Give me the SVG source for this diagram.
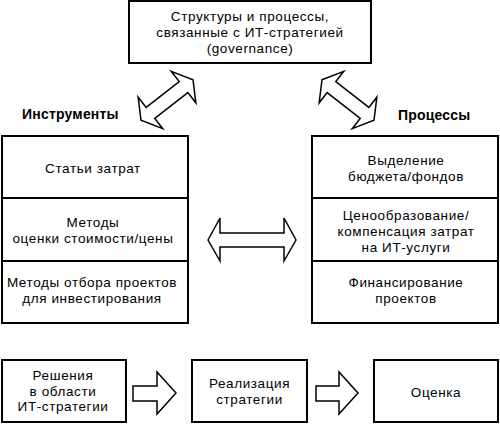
<svg xmlns="http://www.w3.org/2000/svg" width="500" height="424" viewBox="0 0 500 424">
<style>
.box{fill:#fff;stroke:#000;stroke-width:2}
.arr{fill:#fff;stroke:#000;stroke-width:1.5;stroke-linejoin:miter}
text{font-family:"Liberation Sans",Arial,sans-serif;font-size:13.5px;letter-spacing:0.6px;fill:#000;text-anchor:middle}
.hd{font-weight:bold;font-size:14px;letter-spacing:0.2px;text-anchor:start}
</style>
<defs>
<path id="dbl" d="M-33,0 L-21,-20 L-21,-7 L21,-7 L21,-20 L33,0 L21,20 L21,7 L-21,7 L-21,20 Z"/>
</defs>
<rect width="500" height="424" fill="#fff"/>
<g id="governance">
<rect class="box" x="129" y="1" width="242" height="62"/>
<text x="250" y="21">Структуры и процессы,</text>
<text x="250" y="37">связанные с ИТ-стратегией</text>
<text x="250" y="53">(governance)</text>
</g>
<g id="label-instruments"><text class="hd" x="22" y="119">Инструменты</text></g>
<g id="label-processes"><text class="hd" x="398" y="120">Процессы</text></g>
<g id="cost-items">
<rect class="box" x="2" y="136" width="186" height="62"/>
<text x="93" y="173">Статьи затрат</text>
</g>
<g id="valuation">
<rect class="box" x="2" y="198" width="186" height="63"/>
<text x="93" y="227">Методы</text>
<text x="93" y="243">оценки стоимости/цены</text>
</g>
<g id="selection">
<rect class="box" x="2" y="261" width="186" height="62"/>
<text x="92" y="287">Методы отбора проектов</text>
<text x="92" y="303">для инвестирования</text>
</g>
<g id="budget">
<rect class="box" x="312" y="136" width="186" height="62"/>
<text x="406" y="165">Выделение</text>
<text x="406" y="181">бюджета/фондов</text>
</g>
<g id="pricing">
<rect class="box" x="312" y="198" width="186" height="63"/>
<text x="406" y="220">Ценообразование/</text>
<text x="406" y="236">компенсация затрат</text>
<text x="406" y="252">на ИТ-услуги</text>
</g>
<g id="funding">
<rect class="box" x="312" y="261" width="186" height="62"/>
<text x="406" y="287">Финансирование</text>
<text x="406" y="303">проектов</text>
</g>
<g id="decisions">
<rect class="box" x="2" y="360" width="124" height="62"/>
<text x="63" y="380">Решения</text>
<text x="63" y="395.5">в области</text>
<text x="63" y="411">ИТ-стратегии</text>
</g>
<g id="implementation">
<rect class="box" x="192" y="360" width="115" height="62"/>
<text x="249.5" y="388">Реализация</text>
<text x="249.5" y="404">стратегии</text>
</g>
<g id="evaluation">
<rect class="box" x="374" y="360" width="124" height="62"/>
<text x="436" y="397">Оценка</text>
</g>
<g id="connectors">
<use href="#dbl" class="arr" transform="translate(167,100) rotate(-38)"/>
<use href="#dbl" class="arr" transform="translate(348,100) rotate(38)"/>
<path class="arr" d="M208,240 L220,218 L220,233 L284,233 L284,218 L296,240 L284,261 L284,247 L220,247 L220,261 Z"/>
<path class="arr" d="M133,386 L157,386 L157,372 L176,393 L157,414 L157,401 L133,401 Z"/>
<path class="arr" d="M316,386 L339,386 L339,372 L358,393 L339,414 L339,401 L316,401 Z"/>
</g>
</svg>
